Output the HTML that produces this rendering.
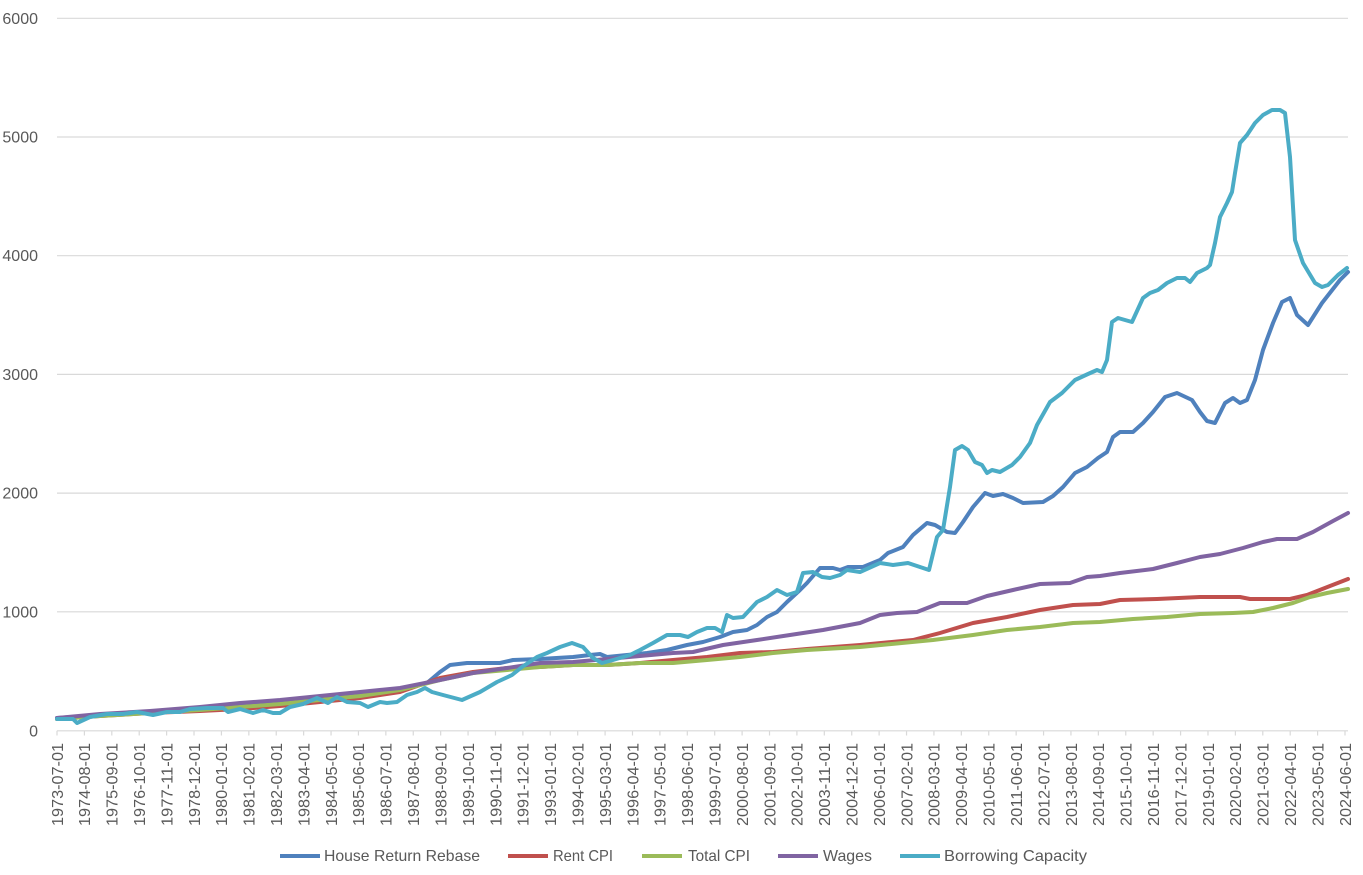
<!DOCTYPE html>
<html>
<head>
<meta charset="utf-8">
<style>
  html, body { margin: 0; padding: 0; background: #ffffff; }
  svg { display: block; }
  text { font-family: "Liberation Sans", Arial, sans-serif; fill: #595959; }
</style>
</head>
<body>
<svg width="1363" height="875" viewBox="0 0 1363 875" xmlns="http://www.w3.org/2000/svg">
  <rect x="0" y="0" width="1363" height="875" fill="#ffffff"/>

  <!-- gridlines -->
  <g stroke="#d9d9d9" stroke-width="1.2">
    <line x1="57" y1="18.3" x2="1348" y2="18.3"/>
    <line x1="57" y1="137" x2="1348" y2="137"/>
    <line x1="57" y1="255.7" x2="1348" y2="255.7"/>
    <line x1="57" y1="374.4" x2="1348" y2="374.4"/>
    <line x1="57" y1="493.1" x2="1348" y2="493.1"/>
    <line x1="57" y1="611.8" x2="1348" y2="611.8"/>
    <line x1="57" y1="730.8" x2="1348" y2="730.8"/>
  </g>

  <!-- y labels -->
  <g font-size="16" text-anchor="end">
    <text x="38" y="24">6000</text>
    <text x="38" y="142.5">5000</text>
    <text x="38" y="261.2">4000</text>
    <text x="38" y="379.9">3000</text>
    <text x="38" y="498.6">2000</text>
    <text x="38" y="617.3">1000</text>
    <text x="38" y="736.3">0</text>
  </g>

  <!-- x ticks and labels -->
  <g id="xt" stroke="#d9d9d9" stroke-width="1.2"></g>
  <g id="xl" font-size="16"></g>

  <!-- series -->
  <g fill="none" stroke-width="4" stroke-linejoin="round" stroke-linecap="round">
    <polyline stroke="#4F81BD" points="57,718 100,715 150,712 200,708 240,706 280,702 320,698 360,694 400,689 427,683 440,672 450,665 467,663 500,663 513,660 540,659 573,657 590,655 600,654 607,657 627,655 647,653 667,650 687,645 703,642 720,637 733,632 747,630 757,625 767,617 777,612 787,602 800,590 807,583 820,568 833,568 840,570 848,567 863,567 880,560 888,553 903,547 913,535 927,523 935,525 947,532 955,533 963,522 973,507 985,493 993,496 1003,494 1013,498 1023,503 1043,502 1053,496 1063,487 1075,473 1087,467 1098,458 1107,452 1113,437 1120,432 1133,432 1143,423 1153,412 1165,397 1177,393 1192,400 1200,412 1207,421 1215,423 1225,403 1233,398 1240,403 1247,400 1255,380 1263,350 1273,323 1282,302 1290,298 1297,315 1308,325 1322,303 1340,280 1348,272"/>
    <polyline stroke="#C0504D" points="57,719 100,716 150,713 200,711 240,709 280,706 320,702 360,698 400,692 440,678 473,672 507,668 540,667 573,665 607,665 640,663 673,660 707,657 740,653 773,652 807,649 860,645 913,640 940,633 973,623 1007,617 1040,610 1073,605 1100,604 1120,600 1157,599 1200,597 1240,597 1250,599 1290,599 1307,595 1330,586 1348,579"/>
    <polyline stroke="#9BBB59" points="57,719 100,716 150,713 200,710 240,707 280,704 320,700 360,696 400,690 440,680 473,673 507,670 540,667 573,665 607,665 640,663 673,663 707,660 740,657 773,653 807,650 860,647 933,640 973,635 1007,630 1040,627 1073,623 1100,622 1133,619 1167,617 1200,614 1233,613 1253,612 1273,608 1293,603 1310,597 1327,593 1348,589"/>
    <polyline stroke="#8064A2" points="57,718 100,714 150,711 200,707 240,703 280,700 320,696 360,692 400,688 440,680 473,673 507,668 540,663 573,662 607,659 640,656 673,653 693,652 723,645 757,640 790,635 823,630 860,623 880,615 897,613 917,612 940,603 967,603 987,596 1013,590 1040,584 1070,583 1087,577 1100,576 1120,573 1153,569 1177,563 1200,557 1220,554 1243,548 1263,542 1277,539 1297,539 1313,532 1333,521 1348,513"/>
    <polyline stroke="#4BACC6" points="57,719 73,719 77,723 90,717 107,714 123,714 137,712 153,715 167,712 180,712 190,709 207,708 223,708 228,712 240,709 253,713 263,710 273,713 280,713 290,707 303,704 317,698 328,703 337,697 347,702 360,703 368,707 380,702 387,703 397,702 407,695 417,692 425,688 432,692 443,695 462,700 480,692 497,682 512,675 522,667 537,657 547,653 560,647 572,643 583,647 593,658 602,663 613,660 630,655 640,650 653,643 667,635 680,635 688,637 697,632 707,628 715,628 722,632 727,615 733,618 743,617 757,602 767,597 777,590 787,595 797,592 803,573 813,572 822,577 830,578 840,575 847,570 860,572 880,563 893,565 908,563 920,567 929,570 937,537 943,530 950,487 955,450 962,446 968,450 975,462 982,465 987,473 992,470 1000,472 1012,465 1020,457 1030,443 1037,425 1050,402 1062,393 1075,380 1088,374 1097,370 1102,372 1107,360 1112,322 1118,318 1132,322 1143,298 1150,293 1158,290 1167,283 1177,278 1185,278 1190,282 1197,273 1207,268 1210,265 1215,243 1220,217 1227,203 1232,192 1235,173 1240,143 1247,135 1255,123 1263,115 1272,110 1280,110 1285,113 1290,157 1295,240 1303,263 1315,283 1322,287 1328,285 1338,275 1347,268"/>
  </g>

  <!-- legend -->
  <g stroke-width="4" stroke-linecap="butt">
    <line x1="280" y1="856" x2="320" y2="856" stroke="#4F81BD"/>
    <line x1="508" y1="856" x2="548" y2="856" stroke="#C0504D"/>
    <line x1="642" y1="856" x2="682" y2="856" stroke="#9BBB59"/>
    <line x1="778" y1="856" x2="818" y2="856" stroke="#8064A2"/>
    <line x1="900" y1="856" x2="940" y2="856" stroke="#4BACC6"/>
  </g>
  <g font-size="16">
    <text x="324" y="861" textLength="156" lengthAdjust="spacingAndGlyphs">House Return Rebase</text>
    <text x="553" y="861" textLength="60" lengthAdjust="spacingAndGlyphs">Rent CPI</text>
    <text x="688" y="861" textLength="62" lengthAdjust="spacingAndGlyphs">Total CPI</text>
    <text x="823" y="861" textLength="49" lengthAdjust="spacingAndGlyphs">Wages</text>
    <text x="944" y="861" textLength="143" lengthAdjust="spacingAndGlyphs">Borrowing Capacity</text>
  </g>
</svg>
<script>
(function(){
  var ns = "http://www.w3.org/2000/svg";
  var xt = document.getElementById("xt");
  var xl = document.getElementById("xl");
  var y = 1973, m = 7;
  for (var k = 0; k < 48; k++) {
    var x = 57 + k * (1288 / 47);
    var t = document.createElementNS(ns, "line");
    t.setAttribute("x1", x); t.setAttribute("x2", x);
    t.setAttribute("y1", 730.8); t.setAttribute("y2", 735.5);
    xt.appendChild(t);
    var lab = y + "-" + (m < 10 ? "0" + m : m) + "-01";
    var tx = document.createElementNS(ns, "text");
    tx.setAttribute("transform", "translate(" + x.toFixed(1) + ",743) rotate(-90)");
    tx.setAttribute("text-anchor", "end");
    tx.setAttribute("dy", "0.36em");
    tx.setAttribute("textLength", "83");
    tx.setAttribute("lengthAdjust", "spacingAndGlyphs");
    tx.textContent = lab;
    xl.appendChild(tx);
    m += 1; y += 1;
    if (m > 12) { m -= 12; y += 1; }
  }
})();
</script>
</body>
</html>
